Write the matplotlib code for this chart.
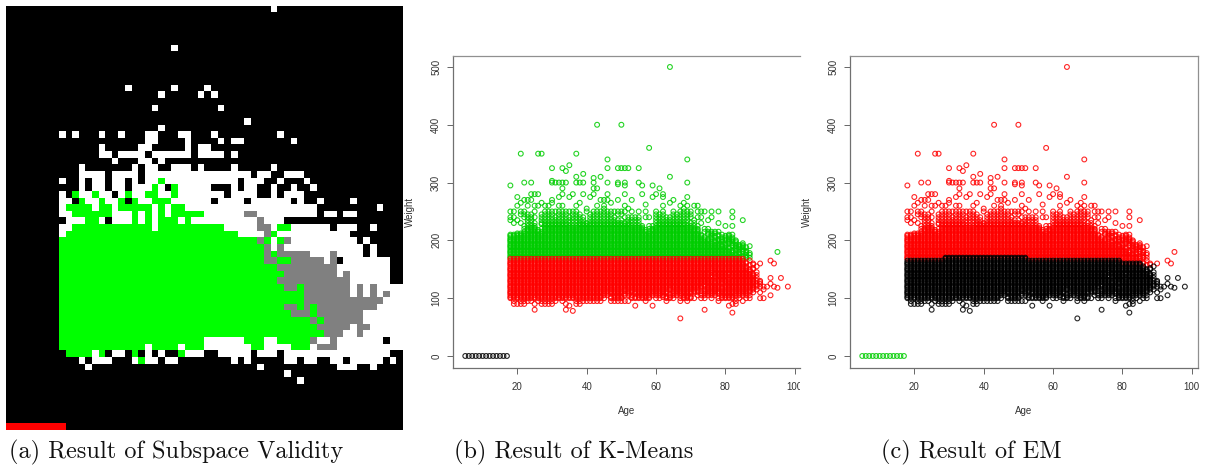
import numpy as np
import matplotlib
matplotlib.use("Agg")
import matplotlib.pyplot as plt
from matplotlib.colors import ListedColormap
from matplotlib.transforms import Bbox

plt.rcParams['font.family'] = ['Liberation Sans', 'DejaVu Sans']

# Left panel: grid cells as (code, first column, last column) per row, black elsewhere
W, G, A, R = 1, 2, 3, 4
grid_rows = 64
grid_cols = 60
cell_runs = {
    0: [(W, 40, 40)],
    6: [(W, 25, 25)],
    12: [(W, 18, 18), (W, 25, 25), (W, 30, 30)],
    13: [(W, 23, 23), (W, 29, 29), (W, 31, 31)],
    15: [(W, 22, 22), (W, 32, 32)],
    17: [(W, 36, 36)],
    18: [(W, 23, 23)],
    19: [(W, 8, 8), (W, 10, 10), (W, 14, 14), (W, 17, 17), (W, 21, 22), (W, 26, 27), (W, 31, 31), (W, 41, 41)],
    20: [(W, 21, 22), (W, 27, 27), (W, 32, 32), (W, 34, 35), (W, 43, 43)],
    21: [(W, 14, 14), (W, 20, 21), (W, 27, 27), (W, 29, 30)],
    22: [(W, 14, 15), (W, 17, 20), (W, 22, 27), (W, 29, 32), (W, 34, 34)],
    23: [(W, 16, 16), (W, 20, 21), (W, 23, 23)],
    24: [(W, 11, 11), (W, 19, 19), (W, 21, 22), (W, 25, 27), (W, 29, 29), (W, 34, 34), (W, 40, 40)],
    25: [(W, 11, 14), (W, 16, 19), (W, 21, 36), (W, 38, 39), (W, 42, 44)],
    26: [(W, 8, 8), (W, 11, 11), (W, 13, 14), (W, 16, 17), (W, 19, 19), (W, 21, 22), (G, 23, 23), (W, 24, 34),
         (W, 36, 38), (W, 41, 41), (W, 45, 45)],
    27: [(W, 11, 11), (W, 13, 14), (W, 16, 17), (W, 19, 21), (G, 22, 22), (W, 23, 23), (G, 25, 25), (W, 26, 30),
         (W, 34, 34), (W, 36, 37), (W, 40, 40), (W, 43, 43), (W, 46, 46)],
    28: [(W, 8, 8), (G, 10, 10), (W, 11, 12), (G, 13, 13), (W, 14, 15), (W, 17, 17), (G, 18, 18), (W, 19, 20),
         (G, 21, 22), (W, 23, 24), (G, 25, 25), (W, 26, 32), (W, 34, 37), (W, 40, 40), (W, 42, 44)],
    29: [(W, 8, 9), (G, 11, 11), (W, 12, 13), (G, 14, 14), (W, 15, 16), (G, 17, 17), (G, 19, 19), (W, 20, 21),
         (G, 22, 24), (W, 25, 30), (W, 32, 35), (W, 37, 42), (W, 44, 44), (W, 47, 47), (W, 52, 52)],
    30: [(W, 8, 8), (G, 9, 12), (W, 13, 13), (G, 14, 15), (W, 16, 16), (G, 17, 21), (W, 22, 22), (G, 23, 23),
         (W, 24, 24), (G, 25, 26), (W, 27, 46), (W, 56, 56)],
    31: [(W, 8, 9), (G, 10, 15), (W, 16, 18), (G, 19, 19), (W, 20, 20), (G, 21, 21), (W, 22, 22), (G, 23, 23),
         (W, 24, 24), (G, 25, 29), (W, 30, 35), (A, 36, 37), (W, 38, 46), (W, 48, 49), (W, 51, 52)],
    32: [(W, 9, 11), (G, 12, 13), (W, 14, 14), (W, 16, 18), (G, 19, 19), (W, 20, 20), (G, 21, 21), (W, 22, 22),
         (G, 23, 25), (W, 26, 26), (G, 27, 27), (W, 28, 37), (A, 38, 38), (W, 39, 41)],
    33: [(W, 8, 9), (G, 10, 21), (W, 22, 22), (G, 23, 32), (W, 33, 37), (A, 38, 39), (W, 40, 40), (G, 41, 42),
         (W, 43, 48), (W, 50, 52), (W, 55, 55)],
    34: [(W, 8, 8), (G, 9, 34), (W, 35, 38), (A, 39, 39), (G, 40, 40), (W, 41, 51)],
    35: [(G, 8, 37), (A, 38, 38), (G, 39, 39), (W, 40, 40), (G, 41, 41), (A, 42, 42), (W, 43, 52), (W, 54, 54)],
    36: [(G, 8, 38), (A, 39, 39), (W, 40, 40), (A, 41, 41), (W, 42, 53), (W, 55, 55)],
    37: [(G, 8, 38), (A, 39, 39), (G, 40, 40), (A, 41, 45), (W, 46, 48), (A, 49, 49), (W, 50, 53), (W, 55, 55)],
    38: [(G, 8, 38), (A, 39, 40), (G, 41, 42), (A, 43, 47), (W, 48, 48), (A, 49, 49), (W, 51, 57)],
    39: [(G, 8, 40), (A, 41, 49), (W, 50, 57)],
    40: [(G, 8, 41), (A, 42, 49), (W, 50, 50), (A, 51, 51), (W, 52, 57)],
    41: [(G, 8, 40), (A, 41, 51), (W, 52, 57)],
    42: [(G, 8, 41), (A, 42, 43), (G, 44, 44), (A, 45, 51), (W, 52, 52), (A, 53, 53), (W, 54, 54), (A, 55, 55),
         (W, 56, 59)],
    43: [(G, 8, 44), (A, 45, 51), (W, 52, 52), (A, 53, 53), (W, 54, 54), (A, 55, 55), (W, 56, 56), (A, 57, 57),
         (W, 58, 59)],
    44: [(G, 8, 44), (A, 45, 56), (W, 57, 59)],
    45: [(G, 8, 41), (A, 42, 43), (G, 44, 44), (A, 45, 45), (G, 46, 46), (A, 47, 55), (W, 56, 59)],
    46: [(G, 8, 42), (A, 43, 45), (G, 46, 46), (A, 47, 53), (W, 54, 59)],
    47: [(G, 8, 45), (A, 46, 46), (G, 47, 47), (A, 48, 53), (W, 54, 59)],
    48: [(G, 8, 46), (A, 47, 51), (W, 52, 52), (A, 53, 54), (W, 55, 59)],
    49: [(G, 8, 47), (A, 48, 50), (W, 51, 52), (A, 53, 53), (W, 54, 59)],
    50: [(G, 8, 29), (W, 30, 35), (G, 36, 38), (W, 39, 40), (G, 41, 45), (A, 46, 46), (W, 47, 48), (A, 49, 49),
         (W, 50, 56), (W, 58, 59)],
    51: [(G, 8, 20), (W, 21, 21), (G, 22, 25), (W, 26, 26), (G, 27, 29), (W, 30, 36), (G, 37, 38), (W, 39, 42),
         (G, 43, 45), (W, 46, 46), (A, 47, 49), (W, 50, 59)],
    52: [(G, 9, 12), (W, 13, 13), (G, 14, 14), (W, 16, 17), (G, 19, 19), (W, 21, 21), (W, 23, 23), (G, 26, 26),
         (W, 27, 29), (W, 32, 36), (W, 38, 40), (W, 42, 57)],
    53: [(W, 11, 11), (W, 13, 15), (W, 19, 19), (G, 20, 20), (W, 21, 22), (W, 24, 25), (W, 34, 34), (W, 36, 36),
         (W, 42, 43), (W, 45, 46), (W, 49, 50), (W, 52, 56), (W, 58, 58)],
    54: [(W, 12, 12), (W, 38, 38), (W, 50, 52), (W, 55, 55)],
    55: [(W, 42, 42)],
    56: [(W, 44, 44)],
    63: [(R, 0, 8)],
}

# Scatter panels: one data set, only the clusters differ
child_ages = [5, 6, 7, 8, 9, 10, 11, 12, 13, 14, 15, 16, 17]
high_ages = [18, 21, 26, 27, 37, 43, 50, 64, 58, 69, 46, 64, 69, 30, 33, 34, 35, 46, 49, 50, 51, 52, 55, 39, 37, 42,
             44, 22, 24, 30, 31, 32, 33, 34, 37, 38, 39, 42, 46, 49, 51, 55, 30, 51, 49, 33, 42, 43, 59, 56, 61,
             24, 25, 26, 33, 36, 39, 42, 46, 51, 56, 60, 62, 20, 32, 35, 41, 59, 62, 69,
             22, 23, 24, 30, 44, 45, 46, 49, 53, 65, 21, 27, 30, 38, 47, 64, 68, 57,
             20, 23, 25, 26, 28, 29, 32, 33, 37, 43, 45, 51, 62, 67, 69, 71, 72, 40, 45, 52, 68]
high_weights = [295, 350, 350, 350, 350, 400, 400, 500, 360, 340, 340, 310, 300, 325, 325, 320, 330, 325, 325, 325,
                325, 325, 325, 315, 310, 308, 310, 300, 300, 300, 300, 300, 300, 300, 300, 300, 300, 300, 300, 300,
                300, 300, 303, 295, 297, 290, 290, 290, 295, 295, 290,
                280, 280, 280, 280, 280, 280, 280, 280, 280, 280, 280, 280, 275, 275, 275, 275, 275, 275, 275,
                270, 270, 270, 270, 270, 270, 270, 270, 270, 270, 265, 265, 265, 265, 265, 265, 265, 262,
                260, 260, 260, 260, 260, 260, 260, 260, 260, 260, 260, 260, 260, 260, 260, 260, 260, 255, 255, 255, 255]
low_ages = [67, 82, 81, 74, 59, 54, 25, 34, 36, 35, 98, 95, 96]
low_weights = [65, 75, 87, 80, 87, 87, 80, 80, 78, 87, 120, 118, 135]

# weight -> runs of ages that have a circle at this weight
band_runs = {
    250: [(18, 19), (21, 22), (25, 25), (28, 37), (40, 40), (42, 51), (53, 53), (55, 55), (57, 57), (60, 60), (62, 62),
          (65, 65), (67, 70), (72, 74), (76, 76), (78, 78), (82, 82)],
    245: [(21, 24), (27, 30), (32, 34), (36, 38), (41, 47), (49, 50), (60, 62), (65, 70)],
    240: [(18, 19), (22, 25), (27, 39), (41, 48), (51, 55), (57, 58), (60, 70), (72, 73), (76, 76), (82, 82)],
    235: [(18, 18), (20, 20), (23, 24), (27, 39), (41, 50), (52, 55), (60, 69), (71, 71), (75, 75), (85, 85)],
    230: [(19, 19), (21, 21), (23, 25), (27, 55), (60, 71), (73, 73), (78, 78)],
    228: [(27, 34), (38, 52), (61, 68)],
    225: [(22, 25), (28, 56), (58, 72), (80, 80), (82, 82)],
    222: [(24, 25), (28, 56), (60, 70)],
    220: [(22, 25), (27, 56), (58, 72), (74, 75)],
    218: [(23, 26), (28, 57), (59, 72)],
    215: [(22, 26), (27, 72), (74, 78)],
    212: [(20, 72), (75, 77)],
    210: [(18, 73), (75, 76), (78, 79), (81, 82)],
    208: [(18, 73), (76, 78), (80, 81)],
    205: [(18, 74), (76, 77), (79, 82)],
    202: [(18, 76), (78, 82)],
    200: [(18, 75), (77, 83)],
    198: [(18, 79), (81, 83)],
    195: [(18, 78), (80, 83), (85, 85)],
    192: [(18, 80), (82, 85)],
    190: [(18, 80), (82, 85), (87, 87)],
    188: [(18, 81), (83, 86)],
    185: [(18, 81), (83, 85)],
    182: [(18, 83), (85, 86)],
    180: [(18, 82), (84, 86), (95, 95)],
    178: [(18, 84), (86, 87)],
    175: [(18, 84), (86, 87)],
    172: [(18, 86)],
    170: [(18, 87)],
    168: [(18, 85)],
    165: [(18, 85), (87, 87), (93, 93)],
    162: [(18, 86)],
    160: [(18, 86), (88, 88), (90, 90), (94, 94)],
    158: [(18, 85), (87, 88)],
    155: [(18, 86), (89, 89)],
    152: [(18, 86), (88, 88)],
    150: [(18, 88)],
    148: [(18, 87)],
    145: [(18, 87), (89, 89)],
    142: [(18, 75), (77, 88)],
    140: [(18, 89)],
    138: [(18, 80), (82, 88)],
    135: [(18, 89), (93, 93)],
    132: [(18, 76), (78, 88)],
    130: [(18, 90)],
    128: [(18, 88), (90, 90)],
    125: [(18, 90), (93, 93)],
    122: [(18, 78), (80, 89)],
    120: [(18, 92), (94, 94)],
    118: [(18, 73), (75, 88)],
    115: [(18, 72), (74, 89), (91, 91)],
    112: [(18, 63), (65, 87)],
    110: [(18, 50), (52, 63), (65, 72), (74, 88), (90, 90)],
    108: [(18, 52), (54, 70), (73, 86)],
    105: [(18, 46), (48, 53), (55, 62), (64, 69), (72, 77), (79, 87), (93, 93)],
    102: [(18, 44), (47, 50), (53, 58), (62, 64), (68, 70), (79, 82)],
    100: [(18, 45), (47, 50), (53, 58), (60, 61), (63, 65), (67, 71), (73, 74), (76, 76), (78, 84), (86, 87), (90, 91)],
    95: [(19, 19), (21, 24), (26, 31), (33, 33), (37, 44), (47, 52), (57, 57), (63, 63), (67, 67), (69, 69), (78, 78),
         (83, 83), (85, 85)],
    90: [(19, 22), (25, 25), (27, 30), (34, 34), (37, 38), (82, 83)],
}

kmeans_split = 168
# top weight of the black EM cluster for age ranges
em_split = [(18, 28, 165), (29, 52, 170), (53, 79, 165), (80, 85, 160), (86, 100, 155)]

age_ticks = [20, 40, 60, 80, 100]
weight_ticks = [0, 100, 200, 300, 400, 500]

GREEN = '#00cd00'
RED = '#ff0000'
BLACK = '#000000'

W_PX, H_PX = 1209, 465
fig = plt.figure(figsize=(W_PX / 100, H_PX / 100), dpi=100)


def px_axes(left, top, right, bottom):
    return fig.add_axes([left / W_PX, 1 - bottom / H_PX, (right - left) / W_PX, (bottom - top) / H_PX])


# (a) grid
grid = np.zeros((grid_rows, grid_cols), dtype=int)
for row, runs in cell_runs.items():
    for code, c0, c1 in runs:
        grid[row, c0:c1 + 1] = code
ax_a = px_axes(6, 6, 403, 430)
ax_a.imshow(grid, cmap=ListedColormap(['#000000', '#ffffff', '#00ff00', '#808080', '#ff0000']),
            vmin=0, vmax=4, interpolation='nearest', aspect='auto')
ax_a.axis('off')

# collect the points
ages, weights = [], []
for weight, runs in band_runs.items():
    for a0, a1 in runs:
        for age in range(a0, a1 + 1):
            ages.append(age)
            weights.append(weight)
ages = np.array(ages + high_ages + low_ages)
weights = np.array(weights + high_weights + low_weights)


def em_top(age):
    for a0, a1, top in em_split:
        if a0 <= age <= a1:
            return top
    return 155


def circles(ax, x, y, color):
    ax.scatter(x, y, s=12, facecolors='none', edgecolors=color, linewidths=0.8, alpha=0.85, clip_on=False)


def style_axes(ax, xmax, right_spine=True):
    ax.set_xlim(1.37, xmax)
    ax.set_ylim(-20.8, 519.5)
    ax.set_xticks(age_ticks)
    ax.set_yticks(weight_ticks)
    ax.tick_params(axis='x', length=4.3, width=0.7, color='#666666', labelsize=7, labelcolor='#333333', pad=6)
    ax.tick_params(axis='y', length=4.3, width=0.7, color='#666666', labelsize=7, labelcolor='#333333', pad=4,
                   labelrotation=90)
    for label in ax.get_yticklabels():
        label.set_verticalalignment('center')
    for name, spine in ax.spines.items():
        spine.set_linewidth(0.9)
        spine.set_color('#707070' if name in ('left', 'bottom') else '#909090')
    ax.spines['right'].set_visible(right_spine)
    ax.set_xlabel('Age', fontsize=7, color='#333333')
    ax.set_ylabel('Weight', fontsize=7, color='#333333')
    ax.xaxis.set_label_coords(0.5, -0.122)
    ax.yaxis.set_label_coords(-0.108, 0.5)


# (b) k-means
ax_b = px_axes(452.7, 55.7, 800, 368)
is_low = weights <= kmeans_split
circles(ax_b, ages[~is_low], weights[~is_low], GREEN)
circles(ax_b, ages[is_low], weights[is_low], RED)
circles(ax_b, child_ages, [0] * len(child_ages), BLACK)
style_axes(ax_b, 101.5, right_spine=False)
# the source image is cropped through the last tick label
for label in ax_b.get_xticklabels():
    label.set_clip_box(Bbox([[0, 0], [800, H_PX]]))
    label.set_clip_on(True)

# (c) EM
ax_c = px_axes(849.7, 55.7, 1197.7, 368)
tops = np.array([em_top(a) for a in ages])
is_black = weights <= tops
circles(ax_c, ages[~is_black], weights[~is_black], RED)
circles(ax_c, ages[is_black], weights[is_black], BLACK)
circles(ax_c, child_ages, [0] * len(child_ages), GREEN)
style_axes(ax_c, 101.7)

# captions
captions = ['(a) Result of Subspace Validity', '(b) Result of K-Means', '(c) Result of EM']
caption_x = [9, 454, 881]
for text, x in zip(captions, caption_x):
    fig.text(x / W_PX, 1 - 458 / H_PX, text, family='cmr10', fontsize=17.5, color='#111111', va='baseline', ha='left')

fig.savefig('out.png', dpi=100)
